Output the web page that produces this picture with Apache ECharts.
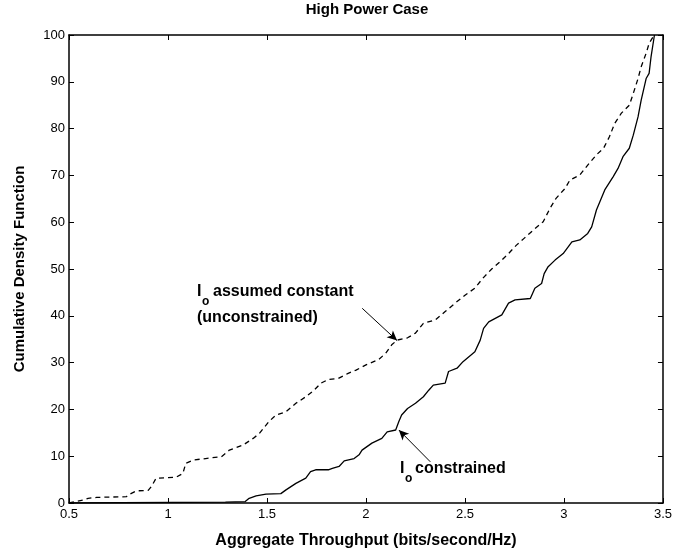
<!DOCTYPE html>
<html>
<head>
<meta charset="utf-8">
<script src="https://cdn.jsdelivr.net/npm/echarts@6/dist/echarts.min.js"></script>
<style>
html,body{margin:0;padding:0;background:#fff;}
#chart{width:675px;height:556px;}
</style>
</head>
<body>
<div id="chart"></div>
<script>
var xTicks = [0.5, 1, 1.5, 2, 2.5, 3, 3.5];
var yTicks = [0, 10, 20, 30, 40, 50, 60, 70, 80, 90, 100];

var unconstrainedX = [0.5,0.572,0.597,0.64,0.79,0.807,0.84,0.90,0.916,0.94,1.04,1.075,1.09,1.13,1.19,1.27,1.31,1.38,1.43,1.46,1.51,1.545,1.596,1.646,1.696,1.738,1.772,1.81,1.86,1.91,1.95,2.0,2.065,2.1,2.13,2.157,2.21,2.25,2.29,2.35,2.40,2.45,2.50,2.55,2.59,2.635,2.686,2.72,2.76,2.80,2.845,2.895,2.93,2.96,3.005,3.03,3.08,3.12,3.164,3.20,3.23,3.256,3.29,3.33,3.35,3.374,3.39,3.415,3.43,3.45,3.457];
var unconstrainedY = [0,0.64,1.0,1.2,1.35,1.9,2.6,2.7,3.5,5.3,5.5,6.3,8.5,9.2,9.5,9.9,11.3,12.4,13.8,14.8,17.4,18.8,19.5,21.3,22.7,24.1,25.6,26.4,26.6,27.7,28.4,29.5,30.7,32,33.8,34.8,35.3,36.3,38.4,39.1,40.9,42.7,44.4,45.9,48.0,50.0,51.9,53.3,55.1,56.6,58.3,60.1,63.0,65.1,67.2,69.0,70.1,72.2,74.4,75.8,78.3,81.1,83.3,85.0,87.5,90.7,93.2,96.1,98.2,99.6,100];

var constrainedX = [0.5,1.29,1.39,1.41,1.445,1.495,1.57,1.596,1.646,1.696,1.72,1.746,1.81,1.83,1.864,1.89,1.94,1.965,1.98,2.03,2.08,2.107,2.15,2.166,2.18,2.21,2.25,2.29,2.317,2.34,2.40,2.417,2.46,2.49,2.55,2.577,2.594,2.62,2.686,2.72,2.753,2.83,2.853,2.887,2.90,2.92,2.955,2.996,3.04,3.08,3.12,3.14,3.164,3.206,3.248,3.273,3.298,3.33,3.35,3.374,3.39,3.415,3.43,3.44,3.457];
var constrainedY = [0,0.2,0.3,1.0,1.5,1.9,2.0,2.8,4.2,5.3,6.7,7.1,7.1,7.4,7.8,9.0,9.5,10.3,11.3,12.8,13.8,15.2,15.6,17.4,18.8,20.2,21.3,22.7,24.1,25.2,25.6,28.1,28.8,30.2,32.3,34.8,37.3,38.7,40.2,42.7,43.4,43.7,45.9,46.9,49.0,50.5,51.9,53.3,55.8,56.2,57.6,59.0,62.6,66.9,69.7,71.5,74.0,75.8,78.6,82.5,86.1,90.7,91.8,95.4,100];

var arrowUnconstrained = [[1.981, 41.6], [2.157, 34.7]];
var arrowConstrained = [[2.325, 8.8], [2.166, 15.6]];

function zip(xs, ys) { return xs.map(function (x, i) { return [x, ys[i]]; }); }

var FONT = '"Liberation Sans", Arial, Helvetica, sans-serif';
var axisCommon = {
  axisLine: { show: true, onZero: false, lineStyle: { color: '#000', width: 1.5 } },
  axisTick: { show: true, inside: true, length: 5, lineStyle: { color: '#000', width: 1 } },
  splitLine: { show: false }
};

var chart = echarts.init(document.getElementById('chart'), null, { renderer: 'canvas' });
chart.setOption({
  animation: false,
  backgroundColor: '#fff',
  grid: { left: 69, right: 10, top: 35, bottom: 53 },
  xAxis: [
    Object.assign({
      type: 'value', position: 'bottom', min: xTicks[0], max: xTicks[xTicks.length - 1], interval: 0.5,
      name: 'Aggregate Throughput (bits/second/Hz)', nameLocation: 'middle', nameGap: 30,
      nameTextStyle: { fontFamily: FONT, fontWeight: 'bold', fontSize: 16, color: '#000' },
      axisLabel: { fontFamily: FONT, fontSize: 13, color: '#000', margin: 5,
        formatter: function (v) { return String(v); } }
    }, axisCommon),
    Object.assign({
      type: 'value', position: 'top', min: xTicks[0], max: xTicks[xTicks.length - 1], interval: 0.5,
      axisLabel: { show: false }
    }, axisCommon)
  ],
  yAxis: [
    Object.assign({
      type: 'value', position: 'left', min: yTicks[0], max: yTicks[yTicks.length - 1], interval: 10,
      name: 'Cumulative Density Function', nameLocation: 'middle', nameGap: 42,
      nameTextStyle: { fontFamily: FONT, fontWeight: 'bold', fontSize: 15, color: '#000' },
      axisLabel: { fontFamily: FONT, fontSize: 13, color: '#000', margin: 4 }
    }, axisCommon),
    Object.assign({
      type: 'value', position: 'right', min: yTicks[0], max: yTicks[yTicks.length - 1], interval: 10,
      axisLabel: { show: false }
    }, axisCommon)
  ],
  series: [
    {
      name: 'Io assumed constant (unconstrained)', type: 'line',
      data: zip(unconstrainedX, unconstrainedY), showSymbol: false, symbol: 'none',
      lineStyle: { color: '#000', width: 1.3, type: [5, 4] },
      markLine: {
        silent: true, symbol: ['none', 'arrow'], symbolSize: [7, 10],
        label: { show: false },
        lineStyle: { color: '#000', width: 1, type: 'solid' },
        data: [
          [{ coord: arrowUnconstrained[0] }, { coord: arrowUnconstrained[1] }],
          [{ coord: arrowConstrained[0] }, { coord: arrowConstrained[1] }]
        ]
      }
    },
    {
      name: 'Io constrained', type: 'line',
      data: zip(constrainedX, constrainedY), showSymbol: false, symbol: 'none',
      lineStyle: { color: '#000', width: 1.3, type: 'solid' }
    }
  ],
  graphic: [
    { type: 'text', x: 367, y: 10, style: { text: 'High Power Case', font: 'bold 15px ' + FONT, fill: '#000', align: 'center', verticalAlign: 'middle' } },
    { type: 'text', x: 197, y: 292, style: { text: 'I', font: 'bold 16px ' + FONT, fill: '#000', align: 'left', verticalAlign: 'middle' } },
    { type: 'text', x: 202, y: 302, style: { text: 'o', font: 'bold 12px ' + FONT, fill: '#000', align: 'left', verticalAlign: 'middle' } },
    { type: 'text', x: 213, y: 292, style: { text: 'assumed constant', font: 'bold 16px ' + FONT, fill: '#000', align: 'left', verticalAlign: 'middle' } },
    { type: 'text', x: 197, y: 318, style: { text: '(unconstrained)', font: 'bold 16px ' + FONT, fill: '#000', align: 'left', verticalAlign: 'middle' } },
    { type: 'text', x: 400, y: 469, style: { text: 'I', font: 'bold 16px ' + FONT, fill: '#000', align: 'left', verticalAlign: 'middle' } },
    { type: 'text', x: 405, y: 479, style: { text: 'o', font: 'bold 12px ' + FONT, fill: '#000', align: 'left', verticalAlign: 'middle' } },
    { type: 'text', x: 415, y: 469, style: { text: 'constrained', font: 'bold 16px ' + FONT, fill: '#000', align: 'left', verticalAlign: 'middle' } }
  ]
});
</script>
</body>
</html>
